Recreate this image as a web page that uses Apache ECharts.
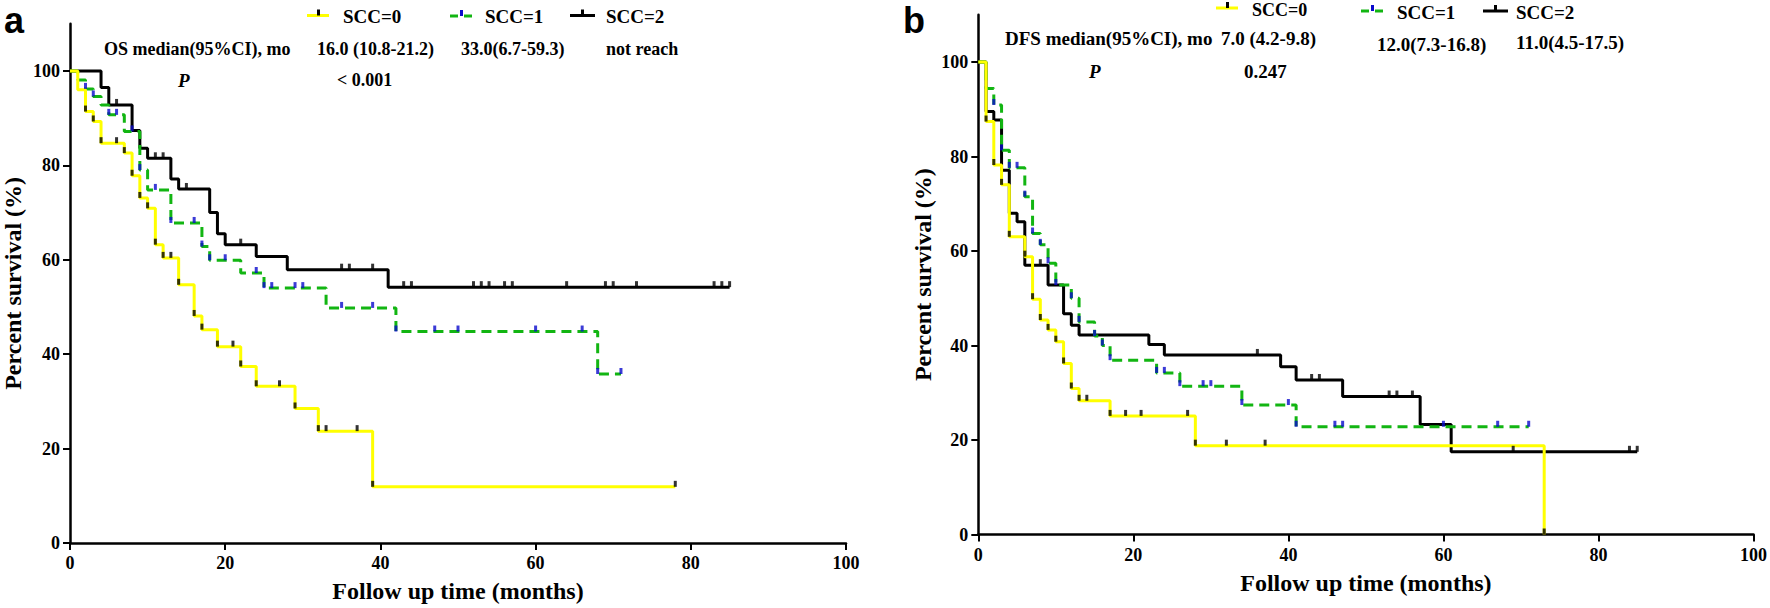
<!DOCTYPE html>
<html><head><meta charset="utf-8">
<script src="https://cdn.jsdelivr.net/npm/echarts@6/dist/echarts.min.js"></script>
<style>html,body{margin:0;padding:0;background:#fff}#c{width:1770px;height:608px}</style>
</head><body><div id="c"></div>
<script>
// ---------- data ----------
const xTickValues = [0, 20, 40, 60, 80, 100];
const yTickValues = [0, 20, 40, 60, 80, 100];
const groupNames = ['SCC=0', 'SCC=1', 'SCC=2'];

// Panel a : overall survival
const osT0 = [0, 1, 2, 3, 4, 7, 8, 9, 10, 11, 12, 14, 16, 17, 19, 22, 24, 29, 32, 39];
const osS0 = [100, 96.0, 91.4, 89.3, 84.7, 82.6, 77.8, 73.1, 70.9, 63.2, 60.4, 54.7, 48.1, 45.2, 41.6, 37.4, 33.2, 28.5, 23.7, 11.9];
const osEnd0 = 78;
const osC0 = [2, 3, 4, 6, 7, 8, 9, 10, 11, 12, 13, 14, 16, 17, 19, 21, 22, 24, 27, 29, 32, 33, 37, 39, 78];

const osT1 = [0, 1, 2, 3, 4, 5, 7, 9, 10, 13, 17, 18, 22, 25, 33, 42, 68];
const osS1 = [100, 98.1, 96.2, 94.6, 92.8, 90.7, 87.2, 79.0, 74.8, 67.8, 62.8, 59.9, 57.2, 54.0, 49.8, 44.8, 35.8];
const osEnd1 = 71;
const osC1 = [2, 3, 5, 6, 8, 9, 11, 13, 16, 17, 18, 20, 24, 25, 26, 29, 30, 35, 39, 42, 47, 50, 60, 66, 68, 71];

const osT2 = [0, 4, 5, 8, 9, 10, 13, 14, 18, 19, 20, 24, 28, 41];
const osS2 = [100, 96.5, 92.8, 87.4, 83.6, 81.5, 77.1, 75.0, 70.0, 65.5, 63.2, 60.7, 57.9, 54.2];
const osEnd2 = 85;
const osC2 = [6, 11, 12, 15, 22, 35, 36, 39, 43, 44, 52, 53, 54, 56, 57, 64, 69, 70, 73, 83, 84, 85];

// Panel b : disease-free survival
const dfsT0 = [0, 1, 2, 3, 4, 6, 7, 8, 9, 10, 11, 12, 13, 17, 28, 73];
const dfsS0 = [100, 87.4, 78.2, 74.0, 63.0, 58.8, 49.8, 45.4, 43.3, 40.8, 36.2, 30.9, 28.3, 25.1, 18.8, 0];
const dfsEnd0 = 73;
const dfsC0 = [1, 2, 3, 4, 6, 7, 8, 9, 10, 11, 12, 13, 14, 17, 19, 21, 27, 28, 32, 37, 73];

const dfsT1 = [0, 1, 2, 3, 4, 6, 7, 8, 9, 10, 12, 13, 15, 16, 17, 23, 26, 34, 41];
const dfsS1 = [100, 94.4, 90.9, 81.3, 77.6, 71.5, 63.7, 61.3, 57.4, 52.8, 50.0, 45.0, 42.0, 40.0, 36.9, 34.2, 31.4, 27.4, 22.8];
const dfsEnd1 = 71;
const dfsC1 = [2, 3, 4, 5, 6, 7, 8, 9, 10, 12, 13, 15, 16, 17, 23, 24, 26, 29, 30, 34, 40, 41, 46, 47, 60, 67, 71];

const dfsT2 = [0, 1, 2, 3, 4, 5, 6, 9, 11, 12, 13, 22, 24, 39, 41, 47, 57, 61];
const dfsS2 = [100, 89.5, 87.7, 77.1, 68.0, 66.2, 57.0, 52.8, 46.7, 44.3, 42.2, 40.2, 38.0, 35.5, 32.7, 29.2, 23.3, 17.5];
const dfsEnd2 = 85;
const dfsC2 = [8, 36, 43, 44, 53, 54, 56, 69, 84, 85];

// text
const osRow = ['OS median(95%CI), mo', '16.0 (10.8-21.2)', '33.0(6.7-59.3)', 'not reach'];
const osP = ['P', '< 0.001'];
const dfsRow = ['DFS median(95%CI), mo', '7.0 (4.2-9.8)', '12.0(7.3-16.8)', '11.0(4.5-17.5)'];
const dfsP = ['P', '0.247'];

// ---------- helpers ----------
function stepData(times, surv, end) {
  const d = times.map((t, i) => [t, surv[i]]);
  d.push([end, surv[surv.length - 1]]);
  return d;
}
function levelAt(times, surv, t) {
  let v = surv[0];
  for (let i = 0; i < times.length; i++) if (times[i] <= t) v = surv[i];
  return v;
}
function censorData(times, surv, cens) {
  return cens.map(t => [t, levelAt(times, surv, t)]);
}

const SERIF = '"Liberation Serif","Times New Roman",serif';
const YELLOW = '#ffff00', GREEN = '#12b512', BLUE = '#0a0acc', BLACK = '#000000';
const lineStyles = [
  { color: YELLOW, width: 3, type: 'solid' },
  { color: GREEN, width: 3, type: [10, 6] },
  { color: BLACK, width: 3, type: 'solid' }
];
const tickColors = [BLACK, BLUE, BLACK];

function kmSeries(name, idx, gi, times, surv, end, cens) {
  return [{
    name: name, type: 'line', step: 'end', xAxisIndex: gi, yAxisIndex: gi,
    data: stepData(times, surv, end), symbol: 'none', showSymbol: false,
    lineStyle: lineStyles[idx], z: 3 + (2 - idx), animation: false, silent: true
  }, {
    name: name + ' censored', type: 'scatter', xAxisIndex: gi, yAxisIndex: gi,
    data: censorData(times, surv, cens), symbol: 'rect', symbolSize: [3, 6],
    symbolOffset: [0, -3], itemStyle: { color: tickColors[idx] }, z: 10,
    animation: false, silent: true
  }];
}

function xAxisCfg(gi) {
  return {
    type: 'value', gridIndex: gi, min: 0, max: 100, interval: 20,
    name: 'Follow up time (months)', nameLocation: 'middle', nameGap: 36,
    nameTextStyle: { fontFamily: SERIF, fontWeight: 'bold', fontSize: 24, color: '#000' },
    axisLine: { show: true, onZero: false, lineStyle: { color: '#000', width: 2.5 } },
    axisTick: { show: true, length: 7, lineStyle: { color: '#000', width: 2 } },
    axisLabel: { fontFamily: SERIF, fontWeight: 'bold', fontSize: 18, color: '#000', margin: 11 },
    splitLine: { show: false }
  };
}
function yAxisCfg(gi, gap) {
  return {
    type: 'value', gridIndex: gi, min: 0, max: 110, interval: 20,
    name: 'Percent survival (%)', nameLocation: 'middle', nameGap: gap,
    nameTextStyle: { fontFamily: SERIF, fontWeight: 'bold', fontSize: 24, color: '#000' },
    axisLine: { show: true, onZero: false, lineStyle: { color: '#000', width: 2.5 } },
    axisTick: { show: true, length: 7, customValues: yTickValues, lineStyle: { color: '#000', width: 2 } },
    axisLabel: { fontFamily: SERIF, fontWeight: 'bold', fontSize: 18, color: '#000', margin: 10,
      customValues: yTickValues, formatter: v => (v > 100 ? '' : String(v)) },
    splitLine: { show: false }
  };
}

function txt(str, x, y, size, opts) {
  opts = opts || {};
  return {
    type: 'text', silent: true, z: 20,
    style: {
      text: str, x: x, y: y, fill: '#000',
      fontFamily: opts.family || SERIF, fontSize: size,
      fontWeight: opts.weight || 'bold', fontStyle: opts.style || 'normal',
      align: 'left', verticalAlign: 'middle'
    }
  };
}
function seg(x1, y1, x2, y2, color, w) {
  return { type: 'line', silent: true, z: 20, shape: { x1, y1, x2, y2 }, style: { stroke: color, lineWidth: w } };
}
function tick(x, y, color) {
  return { type: 'rect', silent: true, z: 21, shape: { x: x, y: y, width: 3, height: 6 }, style: { fill: color } };
}
function legendSet(x0, y0, x1, y1, x2, y2) {
  return [
    seg(x0, y0, x0 + 22, y0, YELLOW, 3), tick(x0 + 10, y0 - 6, BLACK),
    seg(x1, y1, x1 + 8, y1, GREEN, 3), seg(x1 + 14, y1, x1 + 22, y1, GREEN, 3), tick(x1 + 10, y1 - 6, BLUE),
    seg(x2, y2, x2 + 25, y2, BLACK, 3), tick(x2 + 11, y2 - 6, BLACK)
  ];
}

const graphics = [
  txt('a', 4, 20.5, 36, { family: '"Liberation Sans",Arial,sans-serif' }),
  txt('b', 903, 20.5, 36, { family: '"Liberation Sans",Arial,sans-serif' }),
  // panel a legend
  ...legendSet(307, 15.5, 450, 16, 570, 15.5),
  txt(groupNames[0], 343, 16.5, 19), txt(groupNames[1], 485, 16.5, 19), txt(groupNames[2], 606, 16.5, 19),
  txt(osRow[0], 104, 49, 18), txt(osRow[1], 317, 49, 18), txt(osRow[2], 461, 49, 18), txt(osRow[3], 606, 49, 18),
  txt(osP[0], 178, 80, 19, { style: 'italic' }), txt(osP[1], 337, 80, 18),
  // panel b legend
  ...legendSet(1216, 8, 1361, 11, 1483, 11),
  txt(groupNames[0], 1252, 10, 18), txt(groupNames[1], 1397, 12, 19), txt(groupNames[2], 1516, 12, 19),
  txt(dfsRow[0], 1005, 38.5, 19), txt(dfsRow[1], 1221, 38.5, 19), txt(dfsRow[2], 1377, 44.5, 19), txt(dfsRow[3], 1516, 42, 19),
  txt(dfsP[0], 1089, 71.5, 19, { style: 'italic' }), txt(dfsP[1], 1244, 71, 19)
];

const option = {
  animation: false,
  backgroundColor: '#ffffff',
  grid: [
    { left: 68.5, top: 23.75, width: 777.5, height: 519.75, containLabel: false },
    { left: 978.3, top: 14.75, width: 777.7, height: 519.75, containLabel: false }
  ],
  xAxis: [xAxisCfg(0), xAxisCfg(1)],
  yAxis: [yAxisCfg(0, 45), yAxisCfg(1, 43)],
  series: [
    ...kmSeries(groupNames[0], 0, 0, osT0, osS0, osEnd0, osC0),
    ...kmSeries(groupNames[1], 1, 0, osT1, osS1, osEnd1, osC1),
    ...kmSeries(groupNames[2], 2, 0, osT2, osS2, osEnd2, osC2),
    ...kmSeries(groupNames[0], 0, 1, dfsT0, dfsS0, dfsEnd0, dfsC0),
    ...kmSeries(groupNames[1], 1, 1, dfsT1, dfsS1, dfsEnd1, dfsC1),
    ...kmSeries(groupNames[2], 2, 1, dfsT2, dfsS2, dfsEnd2, dfsC2)
  ],
  graphic: graphics
};

const chart = echarts.init(document.getElementById('c'), null, { renderer: 'svg', width: 1770, height: 608 });
chart.setOption(option);
</script>
</body></html>
